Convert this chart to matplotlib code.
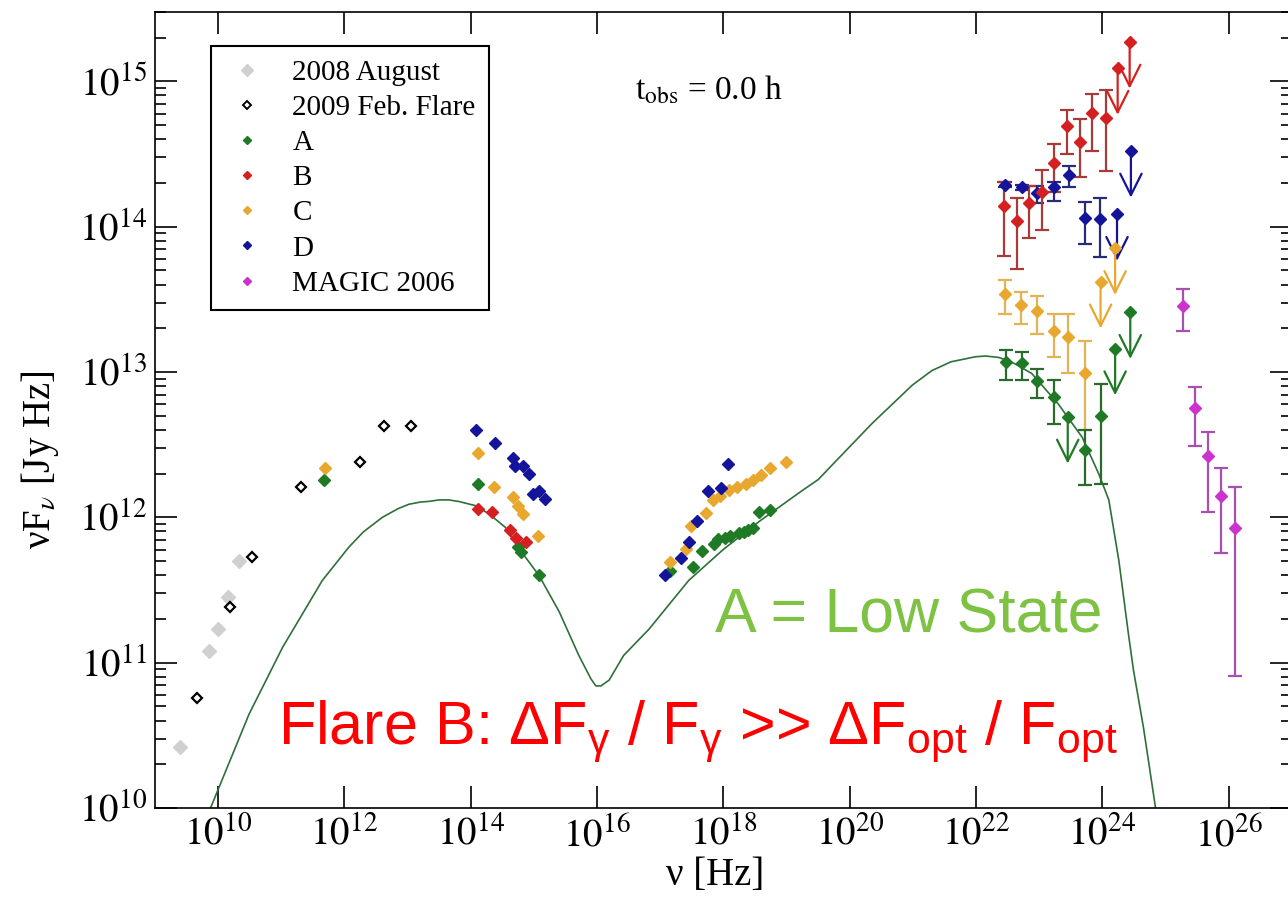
import matplotlib
matplotlib.use("Agg")
import numpy as np
import matplotlib.pyplot as plt
from matplotlib.lines import Line2D
from matplotlib.ticker import LogLocator, NullLocator, NullFormatter

# ---- data (log10 of nu [Hz] and log10 of nuFnu [Jy Hz]) ----

# 2008 August (radio)
aug08_lognu = [9.39, 9.86, 10.00, 10.16, 10.33]
aug08_logf = [10.42, 11.08, 11.23, 11.45, 11.70]

# 2009 Feb. flare
feb09_lognu = [9.67, 10.19, 10.53, 11.32, 12.25, 12.62, 13.05]
feb09_logf = [10.76, 11.38, 11.73, 12.21, 12.38, 12.63, 12.63]

# State A (radio / optical / X-ray points)
A_lognu = [11.67, 14.11, 14.74, 14.79, 15.08,
           17.16, 17.52, 17.66, 17.85, 17.92, 18.03, 18.11, 18.24, 18.32, 18.39, 18.47, 18.56, 18.73]
A_logf = [12.255, 12.23, 11.795, 11.76, 11.60,
          11.63, 11.66, 11.765, 11.82, 11.85, 11.86, 11.875, 11.89, 11.90, 11.91, 11.925, 12.035, 12.05]
# State A (gamma rays, with errors) and upper limits
A_gam_lognu = [22.47, 22.72, 22.97, 23.23, 23.72, 23.97]
A_gam_logf = [13.07, 13.06, 12.94, 12.83, 12.46, 12.70]
A_gam_hi = [13.15, 13.14, 13.02, 12.945, 12.60, 12.92]
A_gam_lo = [12.945, 12.945, 12.82, 12.64, 12.22, 12.23]
A_ul_lognu = [23.45, 24.20, 24.44]
A_ul_logf = [12.69, 13.16, 13.41]

# State B
B_lognu = [14.11, 14.34, 14.62, 14.71, 14.88]
B_logf = [12.06, 12.04, 11.91, 11.86, 11.83]
B_gam_lognu = [22.44, 22.64, 22.84, 23.05, 23.24, 23.44, 23.64, 23.83, 24.05]
B_gam_logf = [14.14, 14.04, 14.165, 14.24, 14.435, 14.69, 14.585, 14.78, 14.75]
B_gam_hi = [14.31, 14.20, 14.28, 14.39, 14.57, 14.80, 14.74, 14.915, 14.94]
B_gam_lo = [13.80, 13.71, 13.92, 13.98, 14.24, 14.50, 14.34, 14.52, 14.38]
B_ul_lognu = [24.24, 24.43]
B_ul_logf = [15.09, 15.27]

# State C
C_lognu = [11.69, 14.11, 14.37, 14.67, 14.74, 14.82, 15.07,
           17.16, 17.40, 17.48, 17.73, 17.84, 17.95, 18.09, 18.22, 18.35, 18.47, 18.60, 18.73, 18.99]
C_logf = [12.34, 12.44, 12.21, 12.14, 12.075, 12.025, 11.87,
          11.69, 11.78, 11.94, 12.03, 12.12, 12.145, 12.19, 12.21, 12.23, 12.255, 12.29, 12.34, 12.38]
C_gam_lognu = [22.45, 22.71, 22.97, 23.23, 23.45, 23.72]
C_gam_logf = [13.535, 13.46, 13.42, 13.28, 13.24, 12.99]
C_gam_hi = [13.63, 13.55, 13.52, 13.40, 13.40, 13.21]
C_gam_lo = [13.40, 13.33, 13.26, 13.10, 12.99, 12.60]
C_ul_lognu = [23.97, 24.20]
C_ul_logf = [13.62, 13.85]

# State D
D_lognu = [14.08, 14.38, 14.67, 14.70, 14.82, 14.92, 14.99, 15.08, 15.17,
           17.07, 17.33, 17.46, 17.58, 17.75, 17.96, 18.07]
D_logf = [12.60, 12.51, 12.41, 12.35, 12.35, 12.30, 12.16, 12.18, 12.125,
          11.60, 11.72, 11.83, 11.975, 12.18, 12.205, 12.37]
D_gam_lognu = [22.45, 22.73, 22.96, 23.23, 23.47, 23.73, 23.96]
D_gam_logf = [14.29, 14.27, 14.23, 14.27, 14.355, 14.06, 14.05]
D_gam_hi = [14.31, 14.29, 14.28, 14.31, 14.42, 14.17, 14.20]
D_gam_lo = [14.27, 14.25, 14.16, 14.18, 14.27, 13.88, 13.79]
D_ul_lognu = [24.23, 24.45]
D_ul_logf = [14.085, 14.52]

# MAGIC 2006
magic_lognu = [25.27, 25.47, 25.67, 25.87, 26.09]
magic_logf = [13.456, 12.75, 12.42, 12.15, 11.93]
magic_hi = [13.57, 12.90, 12.59, 12.34, 12.21]
magic_lo = [13.28, 12.49, 12.035, 11.755, 10.91]

# model curve for the low state
model_lognu = [9.88, 10.49, 11.02, 11.65, 12.07, 12.30, 12.60, 12.85, 13.02, 13.20, 13.34,
               13.50, 13.65, 13.80, 14.08, 14.30, 14.55, 14.79, 15.08, 15.40, 15.71, 15.90,
               15.98, 16.06, 16.19, 16.42, 16.82, 17.45, 18.00, 18.56, 19.20, 19.50, 19.72,
               20.35, 20.99, 21.30, 21.60, 21.99, 22.15, 22.36, 22.60, 22.88, 23.30, 23.68,
               23.94, 24.10, 24.26, 24.41, 24.49, 24.65, 24.84]
model_logf = [10.00, 10.646, 11.105, 11.566, 11.795, 11.90, 12.00, 12.06, 12.09, 12.105, 12.11,
              12.12, 12.12, 12.11, 12.08, 12.02, 11.93, 11.77, 11.60, 11.35, 11.05, 10.89,
              10.84, 10.84, 10.88, 11.05, 11.23, 11.566, 11.78, 11.97, 12.17, 12.26, 12.36,
              12.645, 12.91, 13.01, 13.07, 13.105, 13.11, 13.10, 13.06, 12.99, 12.78, 12.55,
              12.30, 12.12, 11.70, 11.20, 10.95, 10.55, 10.00]

# colours
c_aug = "#d0d0d0"
c_A, c_B, c_C, c_D, c_M = "#1f7a25", "#d42020", "#e8a830", "#14149a", "#cc33cc"
e_A, e_B, e_C, e_D, e_M = "#2a6a2a", "#a83a3a", "#e2b455", "#2a2a7a", "#a850b0"


def p(v):
    return 10.0 ** np.asarray(v)


plt.rcParams["font.family"] = ["Liberation Serif", "DejaVu Serif"]
plt.rcParams["mathtext.fontset"] = "stix"
plt.rcParams["mathtext.rm"] = "Liberation Sans"
plt.rcParams["mathtext.it"] = "Liberation Sans"
plt.rcParams["mathtext.bf"] = "Liberation Sans:bold"

fig = plt.figure(figsize=(12.88, 9.09), dpi=100)
ax = fig.add_axes([0.1203, 0.1111, 0.8828, 0.8757])
ax.set_xscale("log")
ax.set_yscale("log")
ax.set_xlim(1e9, 1e27)
ax.set_ylim(1e10, 3e15)

# model curve
ax.plot(p(model_lognu), p(model_logf), color="#2f6f3a", lw=1.2, zorder=2)

ms = 6
ax.plot(p(aug08_lognu), p(aug08_logf), "D", ms=7, color=c_aug, mec=c_aug, zorder=3)
ax.plot(p(feb09_lognu), p(feb09_logf), "D", ms=5, mfc="white", mec="black", mew=1.6, zorder=4)

for col, xs, ys in [(c_A, A_lognu, A_logf), (c_B, B_lognu, B_logf),
                    (c_C, C_lognu, C_logf), (c_D, D_lognu, D_logf)]:
    ax.plot(p(xs), p(ys), "D", ms=ms, color=col, zorder=4)


def gamma(xs, ys, lo, hi, col, ecol):
    y = p(ys)
    ax.errorbar(p(xs), y, yerr=[y - p(lo), p(hi) - y], fmt="D", ms=ms, color=col,
                ecolor=ecol, elinewidth=1.6, capsize=5, capthick=1.6, zorder=4)


def uplims(xs, ys, col):
    for lx, ly in zip(xs, ys):
        ax.plot(10 ** lx, 10 ** ly, "D", ms=ms, color=col, zorder=4)
        ax.annotate("", xy=(10 ** lx, 10 ** (ly - 0.32)), xytext=(10 ** lx, 10 ** ly),
                    arrowprops=dict(arrowstyle="->,head_length=0.7,head_width=0.35",
                                    color=col, lw=1.6, mutation_scale=22,
                                    shrinkA=0, shrinkB=0), zorder=3)


gamma(D_gam_lognu, D_gam_logf, D_gam_lo, D_gam_hi, c_D, e_D)
gamma(B_gam_lognu, B_gam_logf, B_gam_lo, B_gam_hi, c_B, e_B)
gamma(C_gam_lognu, C_gam_logf, C_gam_lo, C_gam_hi, c_C, e_C)
gamma(A_gam_lognu, A_gam_logf, A_gam_lo, A_gam_hi, c_A, e_A)
gamma(magic_lognu, magic_logf, magic_lo, magic_hi, c_M, e_M)
uplims(B_ul_lognu, B_ul_logf, c_B)
uplims(D_ul_lognu, D_ul_logf, c_D)
uplims(C_ul_lognu, C_ul_logf, c_C)
uplims(A_ul_lognu, A_ul_logf, c_A)

# ticks
xt_exp = [10, 12, 14, 16, 18, 20, 22, 24, 26]
yt_exp = [10, 11, 12, 13, 14, 15]
ax.set_xticks([10.0 ** e for e in xt_exp])
ax.set_xticklabels([rf"$10^{{{e}}}$" for e in xt_exp])
ax.xaxis.set_minor_locator(NullLocator())
ax.set_yticks([10.0 ** e for e in yt_exp])
ax.set_yticklabels([rf"$10^{{{e}}}$" for e in yt_exp])
ax.yaxis.set_minor_locator(LogLocator(base=10, subs=np.arange(2, 10)))
ax.yaxis.set_minor_formatter(NullFormatter())
ax.tick_params(which="major", direction="in", length=16, width=1.2, labelsize=28,
               top=True, right=True, pad=6)
ax.tick_params(which="minor", direction="in", length=8, width=1.2, right=True)
for s in ax.spines.values():
    s.set_linewidth(1.2)

ax.set_xlabel(r"ν [Hz]", fontsize=28)
ax.xaxis.set_label_coords(0.493, -0.062)
ax.set_ylabel(r"νF$_{ν}$ [Jy Hz]", fontsize=28)
ax.yaxis.set_label_coords(-0.083, 0.437)

ax.text(0.422, 0.902, r"t$_{\rm obs}$ = 0.0 h", transform=ax.transAxes,
        fontsize=24, ha="left", va="center")

# legend
handles = [
    Line2D([], [], ls="none", marker="D", ms=6, color=c_aug),
    Line2D([], [], ls="none", marker="D", ms=4, mfc="white", mec="black", mew=1.4),
    Line2D([], [], ls="none", marker="D", ms=4.5, color=c_A),
    Line2D([], [], ls="none", marker="D", ms=4.5, color=c_B),
    Line2D([], [], ls="none", marker="D", ms=4.5, color=c_C),
    Line2D([], [], ls="none", marker="D", ms=4.5, color=c_D),
    Line2D([], [], ls="none", marker="D", ms=4.5, color=c_M),
]
labels = ["2008 August", "2009 Feb. Flare", "A", "B", "C", "D", "MAGIC 2006"]
leg = ax.legend(handles, labels, loc="upper left", bbox_to_anchor=(0.049, 0.957),
                fontsize=21, frameon=True, fancybox=False, edgecolor="black",
                framealpha=1, borderaxespad=0, handlelength=1.6, handletextpad=0.75,
                labelspacing=0.3, borderpad=0.45)
leg.get_frame().set_linewidth(1.5)

# annotations
ax.text(0.4925, 0.22, "A = Low State", transform=ax.transAxes, color="#7dc242",
        fontsize=45, family="Liberation Sans", ha="left", va="baseline")
ax.text(0.108, 0.080,
        r"Flare B: ΔF$_{γ}$ / F$_{γ}$ >> ΔF$_{\rm opt}$ / F$_{\rm opt}$",
        transform=ax.transAxes, color="red", fontsize=44, family="Liberation Sans",
        math_fontfamily="custom", ha="left", va="baseline")

fig.savefig("out.png", dpi=100, facecolor="white")
